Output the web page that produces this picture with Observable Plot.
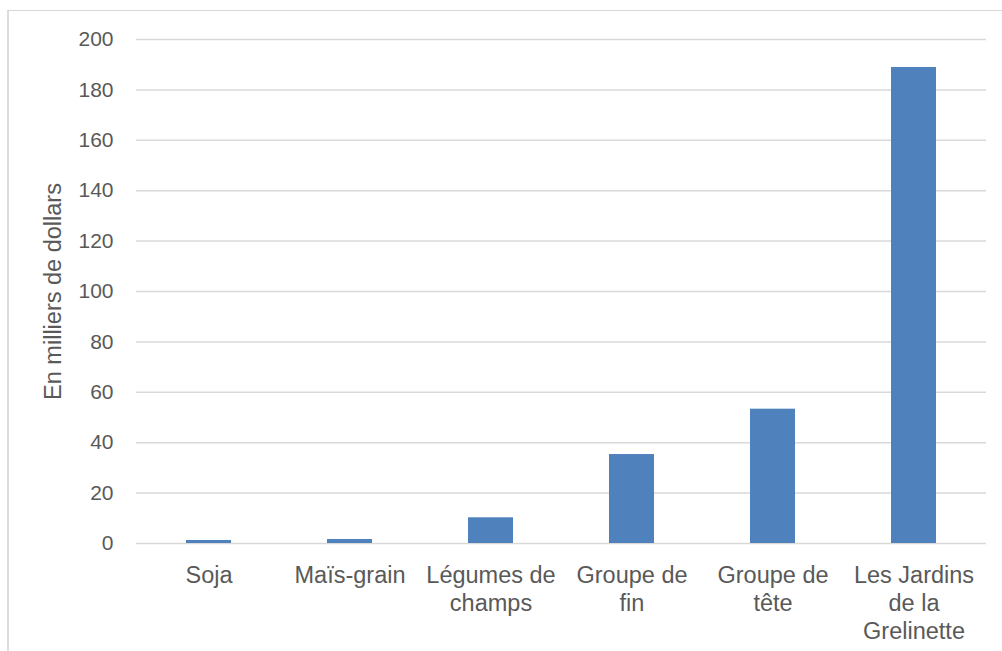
<!DOCTYPE html>
<html>
<head>
<meta charset="utf-8">
<script src="https://cdn.jsdelivr.net/npm/d3@7"></script>
<script src="https://cdn.jsdelivr.net/npm/@observablehq/plot@0.6"></script>
<style>
  html, body { margin: 0; padding: 0; background: #fff; overflow: hidden; }
  #wrap { position: relative; width: 1002px; height: 651px; }
  #frame { position: absolute; left: 7px; top: 10px; width: 1100px; height: 700px;
           border-left: 2px solid #dcdcdc; border-top: 1px solid #d6d6d6; box-sizing: border-box; }
  #chart { position: absolute; left: 0; top: 0; }
</style>
</head>
<body>
<div id="wrap"><div id="frame"></div><div id="chart"></div></div>
<script>
const categories = ["Soja", "Maïs-grain", "Légumes de champs", "Groupe de fin", "Groupe de tête", "Les Jardins de la Grelinette"];
const tickLabels = ["Soja", "Maïs-grain", "Légumes de\nchamps", "Groupe de\nfin", "Groupe de\ntête", "Les Jardins\nde la\nGrelinette"];
const values = [1.2, 1.6, 10.2, 35.3, 53.3, 188.9];
const yTicks = [0, 20, 40, 60, 80, 100, 120, 140, 160, 180, 200];
const yLabel = "En milliers de dollars";

const data = categories.map((c, i) => ({category: c, value: values[i]}));
const labelOf = new Map(categories.map((c, i) => [c, tickLabels[i]]));

const textColor = "#595959";
const font = "'Liberation Sans', Arial, sans-serif";

const chart = Plot.plot({
  width: 1002,
  height: 651,
  marginLeft: 136,
  marginRight: 16,
  marginTop: 39,
  marginBottom: 108,
  style: {fontFamily: font, background: "transparent", color: textColor},
  x: {domain: categories, paddingInner: 0.68, paddingOuter: 0.34, axis: null},
  y: {domain: [0, 200], axis: null},
  marks: [
    Plot.ruleY(yTicks, {stroke: "#d9d9d9", strokeWidth: 1.5}),
    Plot.barY(data, {x: "category", y: "value", fill: "#4F81BD"}),
    Plot.axisY(yTicks, {
      tickSize: 0, tickPadding: 23, fontSize: 21, fill: textColor, label: null
    }),
    Plot.axisX({
      tickSize: 0, tickPadding: 20, fontSize: 23.5, lineHeight: 1.19, fill: textColor,
      tickFormat: d => labelOf.get(d), label: null
    }),
    Plot.text([yLabel], {
      frameAnchor: "left", dx: -83, rotate: -90, fontSize: 23.5, fill: textColor,
      textAnchor: "middle", lineAnchor: "middle"
    })
  ]
});
document.getElementById("chart").appendChild(chart);
</script>
</body>
</html>
